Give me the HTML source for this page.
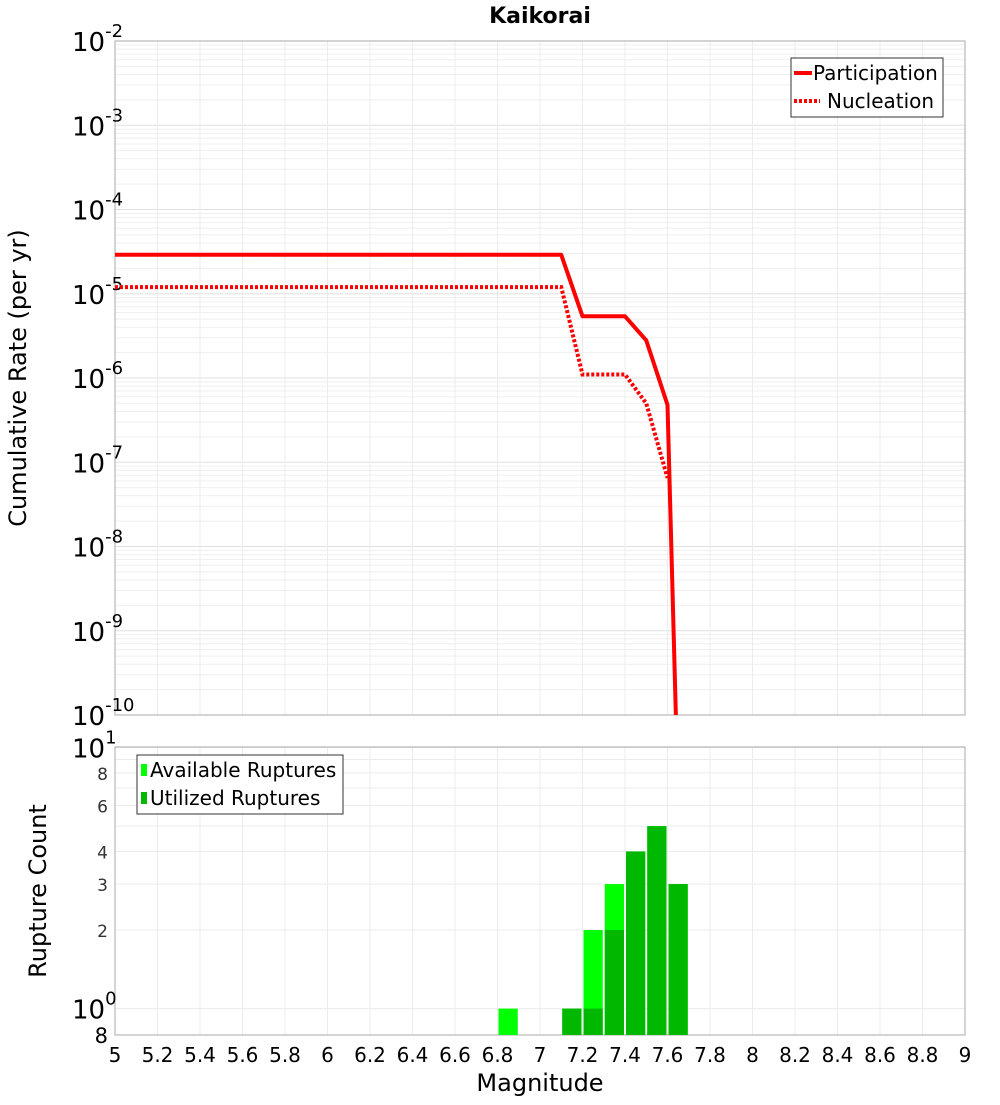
<!DOCTYPE html>
<html><head><meta charset="utf-8"><style>
body{margin:0;background:#fff;}
svg text{font-family:"DejaVu Sans","Liberation Sans",sans-serif;}
</style></head><body>
<svg id="c" width="1000" height="1100" xmlns="http://www.w3.org/2000/svg">
<text x="540" y="23" text-anchor="middle" font-size="22" font-weight="bold">Kaikorai</text>
<text transform="translate(26,378) rotate(-90)" text-anchor="middle" font-size="24">Cumulative Rate (per yr)</text>
<text transform="translate(46,891) rotate(-90)" text-anchor="middle" font-size="24">Rupture Count</text>
<text x="540" y="1091" text-anchor="middle" font-size="24">Magnitude</text>
</svg>
<script>
const xTicks=[5,5.2,5.4,5.6,5.8,6,6.2,6.4,6.6,6.8,7,7.2,7.4,7.6,7.8,8,8.2,8.4,8.6,8.8,9];
const xTickLabels=["5","5.2","5.4","5.6","5.8","6","6.2","6.4","6.6","6.8","7","7.2","7.4","7.6","7.8","8","8.2","8.4","8.6","8.8","9"];
const rateExps=[-2,-3,-4,-5,-6,-7,-8,-9,-10];
const partMag=[5,7.1,7.2,7.4,7.5,7.6,7.65];
const partRate=[2.9e-5,2.9e-5,5.4e-6,5.4e-6,2.8e-6,4.8e-7,1e-11];
const nuclMag=[5,7.1,7.2,7.4,7.5,7.6];
const nuclRate=[1.2e-5,1.2e-5,1.1e-6,1.1e-6,5e-7,6.5e-8];
const binMag=[6.85,7.15,7.25,7.35,7.45,7.55,7.65];
const availCount=[1,1,2,3,4,5,3];
const utilCount=[0,1,1,2,4,5,3];
const countTicks=[2,3,4,6,8];

const NS="http://www.w3.org/2000/svg",svg=document.getElementById('c');
function el(t,a,txt){const e=document.createElementNS(NS,t);for(const k in a)e.setAttribute(k,a[k]);if(txt!==undefined)e.textContent=txt;svg.appendChild(e);return e;}
const L=115,R=965,T1=41,B1=715,T2=747,B2=1035;
const X=m=>L+(m-5)/4*(R-L);
const Y1=v=>T1+(-2-Math.log10(v))*(B1-T1)/8;
const D2=261,Y0=1008.6;
const Y2=v=>Y0-Math.log10(v)*D2;

for(let e=-10;e<-2;e++)for(let k=1;k<10;k++){const y=Y1(k*Math.pow(10,e));const g=el('line',{x1:L,x2:R,y1:y,y2:y,stroke:k==1?'#e0e0e0':'#efefef','stroke-width':1});}
for(let k=1;k<=10;k++){const y=Y2(k);if(y<B2){const g=el('line',{x1:L,x2:R,y1:y,y2:y,stroke:'#ececec'});}}
for(let i=0;i<xTicks.length;i++){const x=X(xTicks[i]);for(const [a,b] of [[T1,B1],[T2,B2]]){const g=el('line',{x1:x,x2:x,y1:a,y2:b,stroke:'#ececec'});}}

let f=el('rect',{x:L,y:T1,width:R-L,height:B1-T1,fill:'none',stroke:'#aaa'});
f=el('rect',{x:L,y:T2,width:R-L,height:B2-T2,fill:'none',stroke:'#aaa'});

rateExps.forEach(e=>{const y=Y1(Math.pow(10,e));const t=el('text',{x:72,y:y+10,'font-size':26});
const a=document.createElementNS(NS,'tspan');a.textContent='10';t.appendChild(a);const s=document.createElementNS(NS,'tspan');s.setAttribute('dy','-14');s.setAttribute('font-size','18');s.textContent=String(e);t.appendChild(s);});
[[10,'1'],[1,'0']].forEach(([v,e])=>{const y=Y2(v);const t=el('text',{x:72,y:y+10,'font-size':26});const a=document.createElementNS(NS,'tspan');a.textContent='10';t.appendChild(a);const s=document.createElementNS(NS,'tspan');s.setAttribute('dy','-14');s.setAttribute('font-size','18');s.textContent=e;t.appendChild(s);});
countTicks.forEach(v=>{const t=el('text',{x:108,y:Y2(v)+7,'text-anchor':'end','font-size':17,fill:'#333'},String(v));});
let t8=el('text',{x:108,y:B2+8,'text-anchor':'end','font-size':21},'8');

xTicks.forEach((m,i)=>{const t=el('text',{x:X(m),y:1062,'text-anchor':'middle','font-size':20},xTickLabels[i]);});

const cp=el('clipPath',{id:'cp1'});const cr=document.createElementNS(NS,'rect');cr.setAttribute('x',L);cr.setAttribute('y',T1);cr.setAttribute('width',R-L);cr.setAttribute('height',B1-T1);cp.appendChild(cr);
function pts(ms,vs){return ms.map((m,i)=>X(m)+','+Y1(vs[i])).join(' ');}
let p=el('polyline',{points:pts(partMag,partRate),fill:'none',stroke:'#ff0000','stroke-width':4,'clip-path':'url(#cp1)','stroke-linejoin':'round'});
p=el('polyline',{points:pts(nuclMag,nuclRate),fill:'none',stroke:'#ff0000','stroke-width':4,'stroke-dasharray':'3,2','clip-path':'url(#cp1)'});

const bw=X(5.1)-X(5);
binMag.forEach((m,i)=>{const x=X(m-0.05)+1;
if(availCount[i]>0){const b=el('rect',{x:x,y:Y2(availCount[i]),width:bw-2,height:B2-Y2(availCount[i]),fill:'#00ff00'});}
if(utilCount[i]>0){const b=el('rect',{x:x,y:Y2(utilCount[i]),width:bw-2,height:B2-Y2(utilCount[i]),fill:'#00b800'});}});

let lg=el('rect',{x:791,y:58,width:152,height:59,fill:'#fff',stroke:'#333'});
let ll=el('line',{x1:794,x2:812,y1:73,y2:73,stroke:'#f00','stroke-width':4});
ll=el('text',{x:813,y:80,'font-size':20},'Participation');
ll=el('line',{x1:794,x2:820,y1:101,y2:101,stroke:'#f00','stroke-width':4,'stroke-dasharray':'3,2'});
ll=el('text',{x:827,y:108,'font-size':20},'Nucleation');
lg=el('rect',{x:137,y:755,width:206,height:59,fill:'#fff',stroke:'#333'});
ll=el('rect',{x:141,y:764,width:6,height:12,fill:'#00ff00'});
ll=el('text',{x:150,y:777,'font-size':20},'Available Ruptures');
ll=el('rect',{x:141,y:792,width:6,height:12,fill:'#00b800'});
ll=el('text',{x:150,y:805,'font-size':20},'Utilized Ruptures');
</script>
</body></html>
